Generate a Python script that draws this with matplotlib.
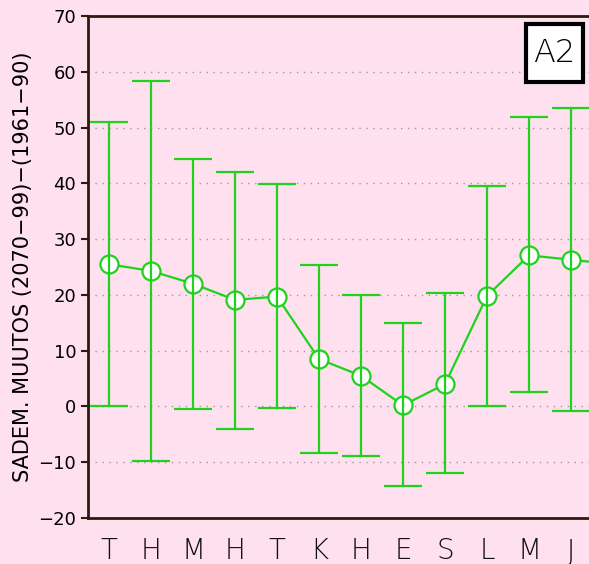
import matplotlib.pyplot as plt
from matplotlib.patches import Rectangle

# kuukaudet ja sademuutokset (%)
months = ['T', 'H', 'M', 'H', 'T', 'K', 'H', 'E', 'S', 'L', 'M', 'J']
mean = [25.5, 24.3, 22.0, 19.1, 19.7, 8.5, 5.5, 0.2, 4.0, 19.8, 27.1, 26.3]
upper = [51.0, 58.4, 44.3, 42.1, 39.8, 25.3, 19.9, 14.9, 20.3, 39.5, 51.9, 53.5]
lower = [0.1, -9.7, -0.4, -4.1, -0.3, -8.3, -8.9, -14.3, -12.0, 0.1, 2.6, -0.8]

bg = '#ffe0ee'
green = '#1ed21e'

fig = plt.figure(figsize=(5.89, 5.64), dpi=100, facecolor=bg)
ax = fig.add_axes([88/589, 46/564, 504/589, 502/564], facecolor=bg)

x = [i + 0.5 for i in range(12)]
# jatketaan viiva seuraavan vuoden tammikuuhun (leikkautuu reunaan)
ax.plot(x + [12.5], mean + [mean[0]], color=green, lw=1.6, zorder=3)
ax.plot(x, mean, 'o', ms=13, mfc='white', mec=green, mew=1.6, zorder=4)
err_lo = [m - l for m, l in zip(mean, lower)]
err_hi = [u - m for m, u in zip(mean, upper)]
ax.errorbar(x, mean, yerr=[err_lo, err_hi], fmt='none', ecolor=green,
            elinewidth=1.6, capsize=13.5, capthick=1.6, zorder=5)

ax.set_xlim(0, 12)
ax.set_ylim(-20, 70)
ax.set_yticks(range(-20, 71, 10))
for yv in range(-10, 61, 10):
    ax.axhline(yv, color='#999999', lw=1, ls=(0, (1, 4)), zorder=1)

ax.set_xticks(x)
ax.set_xticklabels(months, fontsize=20, fontweight='ultralight', color='#111111')
ax.tick_params(axis='x', length=0, pad=14)
ax.tick_params(axis='y', length=5, width=1.5, labelsize=13, color='#2a1a10')
for s in ['left', 'top', 'bottom']:
    ax.spines[s].set_color('#2a1a10')
    ax.spines[s].set_linewidth(2)
ax.spines['right'].set_visible(False)

ax.set_ylabel('SADEM. MUUTOS (2070\u221299)\u2212(1961\u221290)', fontsize=15, labelpad=4)

# skenaariotunnus laatikossa
ax.add_patch(Rectangle((0.869, 0.8685), 0.113, 0.1155, transform=ax.transAxes,
                       fc='white', ec='black', lw=3, zorder=6))
ax.text(0.9255, 0.926, 'A2', transform=ax.transAxes, fontsize=23,
        fontweight='ultralight', ha='center', va='center', zorder=7)

fig.savefig('out.png', dpi=100, facecolor=bg)
